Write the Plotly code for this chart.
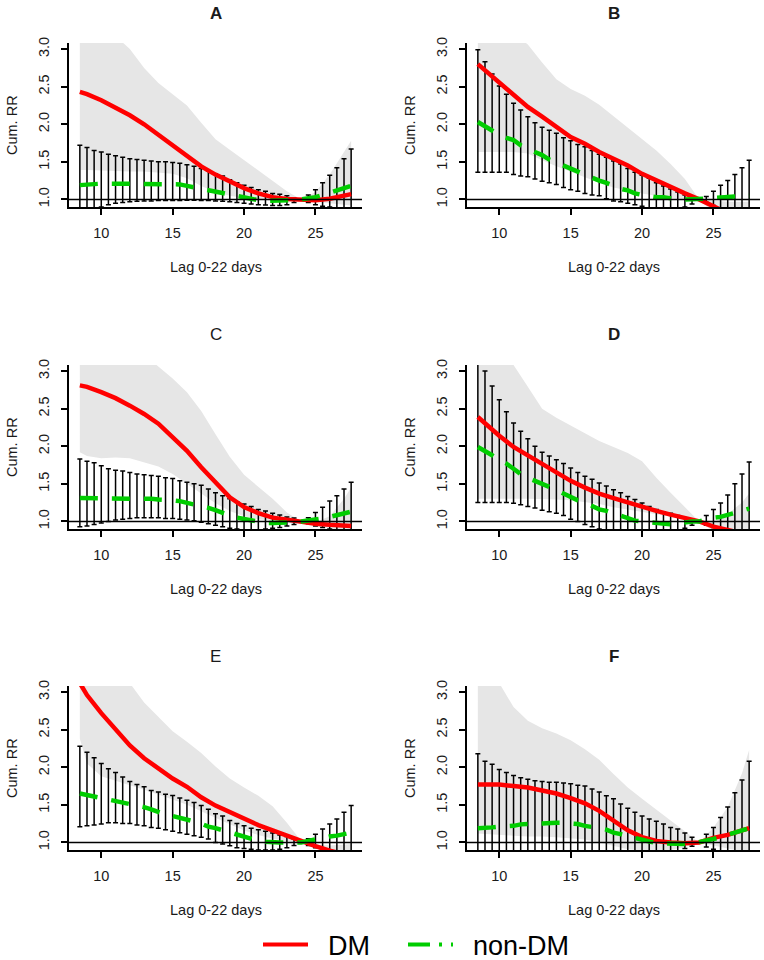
import plotly.graph_objects as go

# ---------------- data ----------------
x_dm = [8.5, 9, 10, 11, 12, 13, 14, 15, 16, 17, 18, 19, 20, 21, 22, 23, 24, 25, 26, 27, 27.5]
x_nd = [8.5, 9, 9.5, 10, 10.5, 11, 11.5, 12, 12.5, 13, 13.5, 14, 14.5, 15, 15.5, 16, 16.5, 17, 17.5,
        18, 18.5, 19, 19.5, 20, 20.5, 21, 21.5, 22, 22.5, 23, 23.5, 24, 24.5, 25, 25.5, 26, 26.5, 27, 27.5]

x_ticks = [10, 15, 20, 25]
y_ticks = [1.0, 1.5, 2.0, 2.5, 3.0]
y_tick_text = ["1.0", "1.5", "2.0", "2.5", "3.0"]
panel_names = ["A", "B", "C", "D", "E", "F"]

# Panel A
dm_A = [2.43, 2.40, 2.32, 2.22, 2.12, 2.00, 1.86, 1.71, 1.57, 1.44, 1.33, 1.24, 1.15, 1.08, 1.03, 1.005, 1.0, 0.99, 1.01, 1.04, 1.07]
dm_hi_A = [3.6, 3.5, 3.35, 3.18, 3.0, 2.75, 2.55, 2.40, 2.25, 2.02, 1.80, 1.66, 1.52, 1.38, 1.25, 1.11, 1.0, 1.1, 1.33, 1.62, 1.78]
dm_lo_A = [1.39, 1.39, 1.38, 1.38, 1.37, 1.37, 1.36, 1.34, 1.28, 1.18, 1.10, 1.05, 1.02, 1.0, 0.99, 0.99, 1.0, 0.97, 0.95, 0.93, 0.92]
nd_A = [1.19, 1.20, 1.20, 1.21, 1.21, 1.21, 1.21, 1.21, 1.21, 1.21, 1.21, 1.21,
        1.20, 1.20, 1.20, 1.18, 1.16, 1.15, 1.13, 1.11, 1.08, 1.06,
        1.04, 1.02, 1.00, 0.99, 0.98, 0.98, 0.98, 0.98, 0.99, 1.00,
        1.01, 1.03, 1.06, 1.09, 1.12, 1.15, 1.18]
nd_hi_A = [1.72, 1.69, 1.65, 1.63, 1.60, 1.58, 1.56, 1.54, 1.53, 1.52, 1.51, 1.50,
           1.50, 1.49, 1.48, 1.46, 1.44, 1.41, 1.38, 1.34, 1.31, 1.26,
           1.22, 1.19, 1.16, 1.13, 1.11, 1.08, 1.07, 1.05, 1.02, 1.00,
           1.06, 1.13, 1.22, 1.32, 1.42, 1.54, 1.67]
nd_lo_A = [0.85, 0.86, 0.88, 0.90, 0.93, 0.95, 0.96, 0.97, 0.975, 0.98, 0.98, 0.985,
           0.985, 0.985, 0.985, 0.99, 0.99, 0.985, 0.985, 0.98, 0.975, 0.97,
           0.96, 0.95, 0.94, 0.93, 0.925, 0.92, 0.92, 0.93, 0.96, 1.00,
           0.96, 0.93, 0.91, 0.90, 0.89, 0.88, 0.87]

# Panel B
dm_B = [2.80, 2.72, 2.56, 2.39, 2.23, 2.10, 1.96, 1.83, 1.74, 1.63, 1.54, 1.45, 1.34, 1.25, 1.16, 1.08, 1.0, 0.90, 0.80, 0.72, 0.68]
dm_hi_B = [3.5, 3.45, 3.35, 3.22, 3.06, 2.82, 2.60, 2.47, 2.38, 2.26, 2.11, 1.96, 1.80, 1.65, 1.47, 1.27, 1.0, 0.98, 0.97, 0.97, 0.97]
dm_lo_B = [1.63, 1.63, 1.63, 1.63, 1.61, 1.52, 1.44, 1.37, 1.29, 1.22, 1.16, 1.12, 1.08, 1.05, 1.02, 1.01, 1.0, 0.82, 0.68, 0.58, 0.54]
nd_B = [2.03, 1.97, 1.91, 1.86, 1.82, 1.79, 1.72, 1.67, 1.63, 1.59, 1.53, 1.49,
        1.45, 1.41, 1.36, 1.32, 1.28, 1.25, 1.22, 1.18, 1.14, 1.12,
        1.08, 1.06, 1.045, 1.03, 1.03, 1.01, 1.0, 1.0, 1.0, 1.0,
        1.01, 1.02, 1.03, 1.04, 1.04, 1.04, 1.05]
nd_hi_B = [2.99, 2.83, 2.67, 2.51, 2.40, 2.28, 2.19, 2.10, 2.02, 1.96, 1.92, 1.88,
           1.82, 1.78, 1.73, 1.70, 1.65, 1.60, 1.56, 1.51, 1.47, 1.41,
           1.36, 1.32, 1.28, 1.22, 1.18, 1.14, 1.10, 1.06, 1.03, 1.0,
           1.04, 1.11, 1.19, 1.25, 1.33, 1.42, 1.52]
nd_lo_B = [1.36, 1.36, 1.36, 1.36, 1.36, 1.33, 1.31, 1.30, 1.27, 1.24, 1.22, 1.20,
           1.16, 1.13, 1.11, 1.08, 1.06, 1.05, 1.01, 0.98, 0.97, 0.95,
           0.93, 0.91, 0.89, 0.88, 0.87, 0.87, 0.88, 0.90, 0.94, 1.0,
           0.96, 0.92, 0.89, 0.86, 0.83, 0.80, 0.77]

# Panel C
dm_C = [2.81, 2.79, 2.72, 2.64, 2.54, 2.43, 2.30, 2.12, 1.94, 1.72, 1.51, 1.32, 1.19, 1.11, 1.05, 1.02, 1.0, 0.97, 0.955, 0.94, 0.94]
dm_hi_C = [3.7, 3.65, 3.55, 3.45, 3.35, 3.22, 3.06, 2.90, 2.72, 2.47, 2.16, 1.86, 1.62, 1.46, 1.30, 1.12, 1.0, 0.99, 1.07, 1.30, 1.45]
dm_lo_C = [1.92, 1.87, 1.84, 1.85, 1.84, 1.79, 1.73, 1.63, 1.50, 1.37, 1.24, 1.14, 1.07, 1.03, 1.01, 1.0, 1.0, 0.94, 0.91, 0.88, 0.87]
nd_C = [1.31, 1.31, 1.31, 1.31, 1.31, 1.31, 1.31, 1.31, 1.31, 1.31, 1.30, 1.29,
        1.29, 1.28, 1.27, 1.25, 1.23, 1.21, 1.18, 1.15, 1.11, 1.08,
        1.05, 1.03, 1.01, 0.99, 0.98, 0.98, 0.98, 0.99, 0.99, 1.0,
        1.01, 1.02, 1.04, 1.06, 1.08, 1.10, 1.13]
nd_hi_C = [1.83, 1.80, 1.78, 1.74, 1.70, 1.68, 1.67, 1.65, 1.63, 1.62, 1.61, 1.60,
           1.58, 1.57, 1.54, 1.52, 1.50, 1.48, 1.43, 1.38, 1.34, 1.30,
           1.26, 1.23, 1.20, 1.16, 1.14, 1.11, 1.085, 1.06, 1.045, 1.0,
           1.05, 1.12, 1.19, 1.27, 1.34, 1.43, 1.52]
nd_lo_C = [0.93, 0.94, 0.96, 0.98, 1.0, 1.02, 1.03, 1.04, 1.05, 1.05, 1.05, 1.05,
           1.04, 1.04, 1.03, 1.02, 1.01, 0.99, 0.97, 0.95, 0.93, 0.91,
           0.90, 0.89, 0.89, 0.89, 0.90, 0.91, 0.92, 0.94, 0.96, 1.0,
           0.97, 0.94, 0.92, 0.90, 0.89, 0.88, 0.87]

# Panel D
dm_D = [2.39, 2.30, 2.14, 1.99, 1.88, 1.77, 1.65, 1.54, 1.45, 1.37, 1.31, 1.25, 1.20, 1.14, 1.09, 1.045, 1.0, 0.93, 0.88, 0.84, 0.82]
dm_hi_D = [3.8, 3.7, 3.4, 3.08, 2.79, 2.50, 2.38, 2.28, 2.17, 2.07, 1.99, 1.91, 1.80, 1.58, 1.38, 1.19, 1.0, 0.99, 1.10, 1.25, 1.37]
dm_lo_D = [1.30, 1.30, 1.30, 1.30, 1.30, 1.30, 1.29, 1.28, 1.26, 1.23, 1.19, 1.15, 1.12, 1.09, 1.06, 1.03, 1.0, 0.87, 0.80, 0.74, 0.71]
nd_D = [1.99, 1.94, 1.88, 1.82, 1.77, 1.70, 1.63, 1.58, 1.54, 1.51, 1.47, 1.42,
        1.37, 1.32, 1.28, 1.25, 1.21, 1.16, 1.14, 1.11, 1.08, 1.045,
        1.01, 1.0, 0.99, 0.97, 0.96, 0.96, 0.97, 0.99, 1.0, 1.0,
        1.03, 1.05, 1.06, 1.09, 1.12, 1.14, 1.17]
nd_hi_D = [3.2, 3.0, 2.80, 2.62, 2.46, 2.31, 2.20, 2.10, 2.00, 1.92, 1.87, 1.82,
           1.77, 1.71, 1.65, 1.60, 1.56, 1.51, 1.47, 1.42, 1.38, 1.33,
           1.29, 1.245, 1.20, 1.16, 1.13, 1.11, 1.08, 1.045, 1.02, 1.0,
           1.08, 1.16, 1.245, 1.35, 1.50, 1.63, 1.79]
nd_lo_D = [1.25, 1.25, 1.25, 1.25, 1.25, 1.24, 1.22, 1.20, 1.18, 1.15, 1.13, 1.11,
           1.08, 1.03, 1.0, 0.96, 0.93, 0.90, 0.88, 0.87, 0.86, 0.85,
           0.84, 0.84, 0.84, 0.84, 0.85, 0.86, 0.88, 0.91, 0.95, 1.0,
           0.95, 0.92, 0.90, 0.88, 0.86, 0.84, 0.82]

# Panel E
dm_E = [3.12, 2.96, 2.72, 2.50, 2.29, 2.12, 1.98, 1.85, 1.74, 1.60, 1.49, 1.40, 1.31, 1.23, 1.16, 1.09, 1.01, 0.95, 0.89, 0.84, 0.82]
dm_hi_E = [3.9, 3.75, 3.5, 3.3, 3.12, 2.86, 2.67, 2.48, 2.34, 2.19, 2.01, 1.85, 1.73, 1.62, 1.48, 1.26, 1.02, 0.97, 0.96, 0.97, 0.98]
dm_lo_E = [2.38, 2.05, 1.88, 1.82, 1.76, 1.70, 1.64, 1.57, 1.50, 1.42, 1.33, 1.24, 1.16, 1.10, 1.05, 1.02, 0.99, 0.93, 0.84, 0.76, 0.72]
nd_E = [1.65, 1.63, 1.62, 1.60, 1.58, 1.56, 1.53, 1.51, 1.49, 1.47, 1.44, 1.40,
        1.37, 1.35, 1.33, 1.30, 1.28, 1.25, 1.21, 1.19, 1.16, 1.13,
        1.10, 1.07, 1.045, 1.02, 1.01, 1.0, 1.0, 1.0, 1.0, 1.0,
        1.02, 1.045, 1.06, 1.08, 1.09, 1.11, 1.13]
nd_hi_E = [2.28, 2.20, 2.125, 2.05, 1.98, 1.93, 1.87, 1.81, 1.77, 1.74, 1.69, 1.67,
           1.64, 1.625, 1.59, 1.56, 1.53, 1.49, 1.44, 1.38, 1.35, 1.29,
           1.25, 1.22, 1.19, 1.17, 1.15, 1.125, 1.10, 1.08, 1.045, 1.0,
           1.05, 1.11, 1.18, 1.245, 1.31, 1.40, 1.49]
nd_lo_E = [1.21, 1.22, 1.23, 1.245, 1.26, 1.26, 1.25, 1.25, 1.23, 1.22, 1.20, 1.19,
           1.17, 1.15, 1.13, 1.11, 1.09, 1.07, 1.045, 1.0, 0.98, 0.955,
           0.93, 0.92, 0.91, 0.90, 0.90, 0.90, 0.91, 0.93, 0.96, 1.0,
           0.96, 0.93, 0.91, 0.90, 0.89, 0.88, 0.88]

# Panel F
dm_F = [1.77, 1.77, 1.77, 1.75, 1.73, 1.69, 1.65, 1.59, 1.52, 1.42, 1.29, 1.16, 1.07, 1.02, 1.0, 0.99, 1.0, 1.06, 1.10, 1.16, 1.19]
dm_hi_F = [3.8, 3.5, 3.12, 2.80, 2.62, 2.52, 2.45, 2.36, 2.24, 2.10, 1.91, 1.73, 1.58, 1.43, 1.29, 1.15, 1.0, 1.20, 1.47, 1.92, 2.23]
dm_lo_F = [1.12, 1.11, 1.10, 1.09, 1.08, 1.08, 1.07, 1.06, 1.04, 1.0, 0.95, 0.91, 0.89, 0.89, 0.90, 0.94, 1.0, 0.96, 0.92, 0.88, 0.86]
nd_F = [1.19, 1.19, 1.20, 1.21, 1.21, 1.22, 1.24, 1.245, 1.25, 1.26, 1.26, 1.26,
        1.26, 1.26, 1.245, 1.22, 1.21, 1.19, 1.17, 1.13, 1.11, 1.08,
        1.06, 1.036, 1.01, 0.99, 0.985, 0.98, 0.98, 0.98, 0.985, 1.0,
        1.02, 1.045, 1.07, 1.10, 1.125, 1.15, 1.19]
nd_hi_F = [2.18, 2.08, 2.04, 1.97, 1.93, 1.89, 1.86, 1.84, 1.82, 1.81, 1.80, 1.80,
           1.79, 1.78, 1.76, 1.75, 1.71, 1.67, 1.62, 1.58, 1.51, 1.455,
           1.40, 1.35, 1.31, 1.28, 1.245, 1.20, 1.18, 1.125, 1.07, 1.0,
           1.11, 1.20, 1.33, 1.47, 1.66, 1.83, 2.08]
nd_lo_F = [0.70, 0.73, 0.75, 0.77, 0.79, 0.80, 0.82, 0.83, 0.84, 0.85, 0.86, 0.86,
           0.86, 0.86, 0.86, 0.86, 0.86, 0.86, 0.85, 0.85, 0.84, 0.84,
           0.84, 0.84, 0.84, 0.85, 0.86, 0.87, 0.89, 0.92, 0.95, 1.0,
           0.94, 0.91, 0.89, 0.88, 0.87, 0.86, 0.85]

panels = [
    (dm_A, dm_lo_A, dm_hi_A, nd_A, nd_lo_A, nd_hi_A),
    (dm_B, dm_lo_B, dm_hi_B, nd_B, nd_lo_B, nd_hi_B),
    (dm_C, dm_lo_C, dm_hi_C, nd_C, nd_lo_C, nd_hi_C),
    (dm_D, dm_lo_D, dm_hi_D, nd_D, nd_lo_D, nd_hi_D),
    (dm_E, dm_lo_E, dm_hi_E, nd_E, nd_lo_E, nd_hi_E),
    (dm_F, dm_lo_F, dm_hi_F, nd_F, nd_lo_F, nd_hi_F),
]

# ---------------- styling / layout ----------------
W, H = 764, 960
RED = "#ff0000"
GREEN = "#00cd00"
GREY = "#e6e6e6"
FONT = "Liberation Sans, Arial, sans-serif"
TXT = "#1a1a1a"

col_px = [(69, 362), (467, 760)]
row_px = [(43, 207), (365, 529), (686, 850)]
bold_titles = {"A": True, "B": True, "C": False, "D": True, "E": False, "F": True}

fig = go.Figure()
annotations = []
shapes = []

for i, name in enumerate(panel_names):
    r, c = divmod(i, 2)
    dm, dm_lo, dm_hi, nd, nd_lo, nd_hi = panels[i]
    xa = "x" if i == 0 else f"x{i+1}"
    ya = "y" if i == 0 else f"y{i+1}"
    xl, xr = col_px[c]
    yt, yb = row_px[r]

    # DM confidence band
    fig.add_trace(go.Scatter(
        x=x_dm + x_dm[::-1], y=dm_hi + dm_lo[::-1],
        fill="toself", fillcolor=GREY, mode="lines", line=dict(width=0, color=GREY),
        hoverinfo="skip", showlegend=False, xaxis=xa, yaxis=ya))
    # non-DM error bars
    fig.add_trace(go.Scatter(
        x=x_nd, y=nd, mode="markers",
        marker=dict(size=1, color="rgba(0,0,0,0)"),
        error_y=dict(type="data", symmetric=False,
                     array=[h - v for h, v in zip(nd_hi, nd)],
                     arrayminus=[v - l for v, l in zip(nd, nd_lo)],
                     color="#000000", thickness=1.5, width=2.5),
        hoverinfo="skip", showlegend=False, xaxis=xa, yaxis=ya))
    # DM line
    fig.add_trace(go.Scatter(
        x=x_dm, y=dm, mode="lines", line=dict(color=RED, width=4.5),
        showlegend=False, xaxis=xa, yaxis=ya))
    # non-DM line
    fig.add_trace(go.Scatter(
        x=x_nd, y=nd, mode="lines", line=dict(color=GREEN, width=4.5, dash="18px,14px"),
        showlegend=False, xaxis=xa, yaxis=ya))

    common = dict(showgrid=False, zeroline=False, showline=True, linecolor="#000000",
                  linewidth=2, ticks="outside", ticklen=6, tickwidth=1.5, tickcolor="#000000",
                  tickfont=dict(family=FONT, size=14.5, color=TXT))
    fig.layout[("xaxis" if i == 0 else f"xaxis{i+1}")] = dict(
        domain=[xl / W, xr / W], anchor=ya, range=[7.74, 28.26],
        tickvals=x_ticks, ticklabelstandoff=6, **common)
    fig.layout[("yaxis" if i == 0 else f"yaxis{i+1}")] = dict(
        domain=[1 - yb / H, 1 - yt / H], anchor=xa, range=[0.899, 3.081],
        tickvals=y_ticks, ticktext=y_tick_text, tickangle=-90, ticklabelstandoff=6, **common)

    shapes.append(dict(type="line", xref=f"{xa} domain", yref=ya, x0=0, x1=1, y0=1, y1=1,
                       line=dict(color="#000000", width=1.5), layer="above"))

    cx = (xl + xr) / 2 / W
    ttl = f"<b>{name}</b>" if bold_titles[name] else name
    annotations.append(dict(text=ttl, x=cx, y=1 - (yt - 30) / H, xref="paper", yref="paper",
                            showarrow=False, xanchor="center", yanchor="middle",
                            font=dict(family=FONT, size=17, color=TXT)))
    annotations.append(dict(text="Lag 0-22 days", x=cx, y=1 - (yb + 60) / H, xref="paper",
                            yref="paper", showarrow=False, xanchor="center", yanchor="middle",
                            font=dict(family=FONT, size=14.5, color=TXT)))
    annotations.append(dict(text="Cum. RR", x=(xl - 57) / W, y=1 - (yt + yb) / 2 / H,
                            xref="paper", yref="paper", showarrow=False, textangle=-90,
                            xanchor="center", yanchor="middle",
                            font=dict(family=FONT, size=14.5, color=TXT)))

# legend entries (two separate legends so each keeps its natural width)
fig.add_trace(go.Scatter(x=[None], y=[None], mode="lines", name="\u00a0\u00a0DM",
                         line=dict(color=RED, width=4), showlegend=True, legend="legend"))
fig.add_trace(go.Scatter(x=[None], y=[None], mode="lines", name="\u00a0\u00a0non-DM",
                         line=dict(color=GREEN, width=4, dash="22px,9px,3px,9px"),
                         showlegend=True, legend="legend2"))

leg_common = dict(orientation="h", xanchor="left", y=15 / H, yanchor="middle",
                  font=dict(family=FONT, size=27, color="#000000"),
                  itemwidth=45, bgcolor="rgba(0,0,0,0)")

fig.update_layout(
    width=W, height=H, margin=dict(l=0, r=0, t=0, b=0, autoexpand=False),
    paper_bgcolor="white", plot_bgcolor="white",
    showlegend=True,
    legend=dict(x=258 / W, **leg_common),
    legend2=dict(x=403 / W, **leg_common),
    annotations=annotations, shapes=shapes,
)

fig.write_html("out.html", config={"displayModeBar": False},
               post_script="document.body.style.margin='0';")
